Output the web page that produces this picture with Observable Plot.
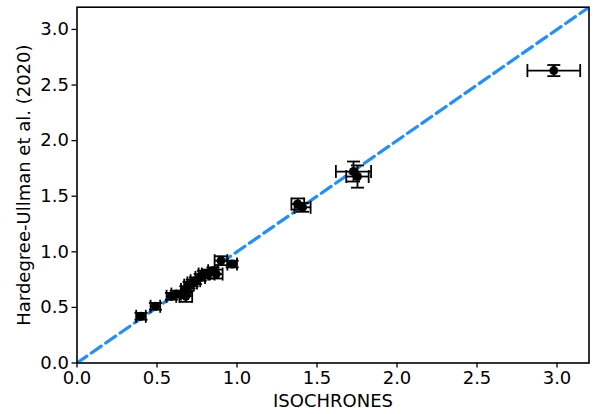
<!DOCTYPE html>
<html>
<head>
<meta charset="utf-8">
<script src="https://cdn.jsdelivr.net/npm/d3@7"></script>
<script src="https://cdn.jsdelivr.net/npm/@observablehq/plot@0.6"></script>
<style>
  html, body { margin: 0; padding: 0; background: white; }
  svg { display: block; }
</style>
</head>
<body>
<div id="chart"></div>
<script>
// Values
const isoX  = [2.98, 1.728, 1.753, 1.38, 1.41, 0.97, 0.90, 0.87, 0.85, 0.82, 0.79, 0.77, 0.74, 0.72, 0.70, 0.68, 0.68, 0.62, 0.59, 0.49, 0.40];
const huY   = [2.63, 1.722, 1.677, 1.43, 1.40, 0.89, 0.92, 0.80, 0.83, 0.80, 0.80, 0.77, 0.74, 0.72, 0.70, 0.66, 0.60, 0.62, 0.60, 0.51, 0.42];
const xErr  = [0.165, 0.11, 0.07, 0.04, 0.05, 0.03, 0.04, 0.04, 0.03, 0.04, 0.03, 0.03, 0.03, 0.03, 0.03, 0.03, 0.04, 0.03, 0.03, 0.03, 0.03];
const yErr  = [0.05, 0.09, 0.10, 0.05, 0.04, 0.03, 0.04, 0.04, 0.03, 0.04, 0.03, 0.03, 0.03, 0.03, 0.03, 0.03, 0.05, 0.03, 0.03, 0.03, 0.03];
const tickValues = [0.0, 0.5, 1.0, 1.5, 2.0, 2.5, 3.0];
const axisDomain = [0, 3.2];
const xLabel = "ISOCHRONES";
const yLabel = "Hardegree-Ullman et al. (2020)";

const data = isoX.map((x, i) => ({x, y: huY[i], xe: xErr[i], ye: yErr[i]}));

const hCap = {draw(ctx, size) { const w = Math.sqrt(size / Math.PI); ctx.moveTo(-w, 0); ctx.lineTo(w, 0); }};
const vCap = {draw(ctx, size) { const w = Math.sqrt(size / Math.PI); ctx.moveTo(0, -w); ctx.lineTo(0, w); }};

const font = "DejaVu Sans, sans-serif";
const fs = 18;

const chart = Plot.plot({
  width: 596,
  height: 414,
  marginLeft: 76.5,
  marginRight: 7.5,
  marginTop: 6.7,
  marginBottom: 51.5,
  style: {fontFamily: font, fontSize: fs + "px", color: "black", background: "white"},
  x: {domain: axisDomain},
  y: {domain: axisDomain},
  marks: [
    Plot.line(axisDomain, {x: d => d, y: d => d, stroke: "#1e90ff", strokeWidth: 3.2, strokeDasharray: "12,5.5", clip: true}),
    Plot.ruleY(data, {y: "y", x1: d => d.x - d.xe, x2: d => d.x + d.xe, stroke: "black", strokeWidth: 1.8}),
    Plot.ruleX(data, {x: "x", y1: d => d.y - d.ye, y2: d => d.y + d.ye, stroke: "black", strokeWidth: 1.8}),
    Plot.dot(data, {x: d => d.x - d.xe, y: "y", symbol: vCap, r: 6.5, stroke: "black", strokeWidth: 1.8, fill: "none"}),
    Plot.dot(data, {x: d => d.x + d.xe, y: "y", symbol: vCap, r: 6.5, stroke: "black", strokeWidth: 1.8, fill: "none"}),
    Plot.dot(data, {x: "x", y: d => d.y - d.ye, symbol: hCap, r: 6.5, stroke: "black", strokeWidth: 1.8, fill: "none"}),
    Plot.dot(data, {x: "x", y: d => d.y + d.ye, symbol: hCap, r: 6.5, stroke: "black", strokeWidth: 1.8, fill: "none"}),
    Plot.dot(data, {x: "x", y: "y", r: 4.5, fill: "black"}),
    Plot.axisX({ticks: tickValues, tickFormat: d3.format(".1f"), tickSize: 5, tickPadding: 3, label: null, fontSize: fs, strokeWidth: 1.3}),
    Plot.axisY({ticks: tickValues, tickFormat: d3.format(".1f"), tickSize: 5, tickPadding: 3, label: null, fontSize: fs, strokeWidth: 1.3}),
    Plot.text([xLabel], {frameAnchor: "bottom", dy: 38, text: d => d, fontSize: fs, lineAnchor: "middle", textAnchor: "middle"}),
    Plot.text([yLabel], {frameAnchor: "left", dx: -53, rotate: -90, text: d => d, fontSize: fs, lineAnchor: "middle", textAnchor: "middle"}),
    Plot.frame({stroke: "black", strokeWidth: 1.6})
  ]
});
document.getElementById("chart").appendChild(chart);
</script>
</body>
</html>
